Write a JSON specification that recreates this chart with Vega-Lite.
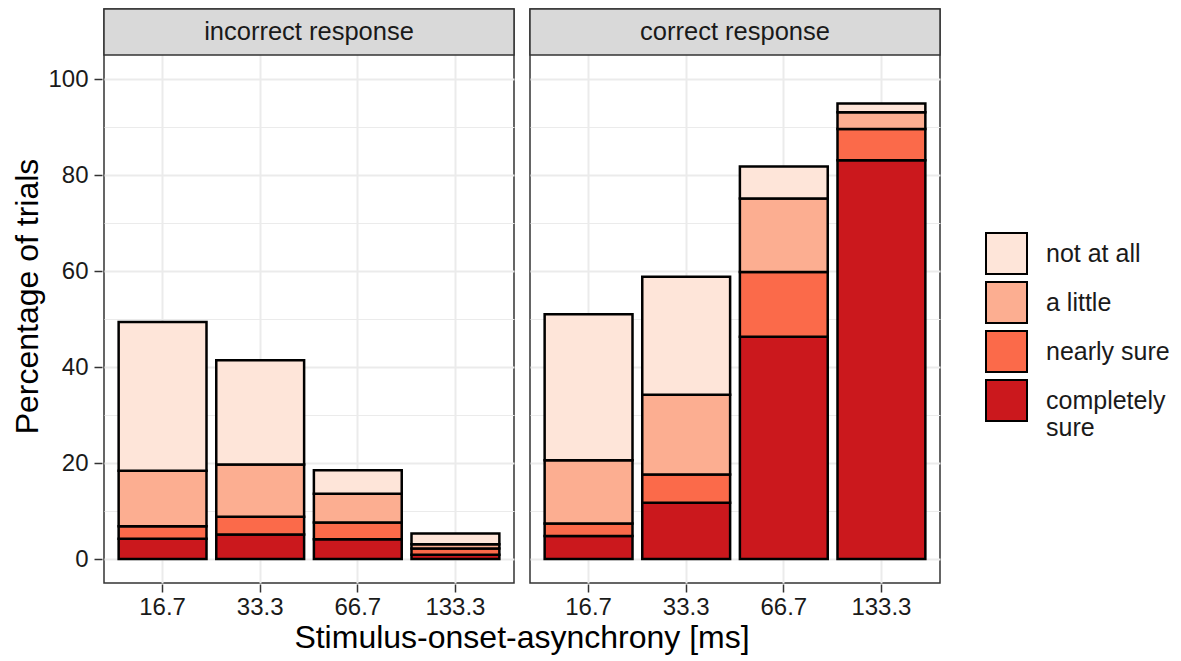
{
  "$schema": "https://vega.github.io/schema/vega-lite/v6.json",
  "padding": {"left": 11, "top": 7, "right": 5, "bottom": 5},
  "background": "white",
  "data": {"values": [
    {"resp": "incorrect response", "soa": "16.7", "conf": "completely sure", "pct": 4.2},
    {"resp": "incorrect response", "soa": "16.7", "conf": "nearly sure", "pct": 2.6},
    {"resp": "incorrect response", "soa": "16.7", "conf": "a little", "pct": 11.6},
    {"resp": "incorrect response", "soa": "16.7", "conf": "not at all", "pct": 31.0},
    {"resp": "incorrect response", "soa": "33.3", "conf": "completely sure", "pct": 5.1},
    {"resp": "incorrect response", "soa": "33.3", "conf": "nearly sure", "pct": 3.7},
    {"resp": "incorrect response", "soa": "33.3", "conf": "a little", "pct": 10.9},
    {"resp": "incorrect response", "soa": "33.3", "conf": "not at all", "pct": 21.7},
    {"resp": "incorrect response", "soa": "66.7", "conf": "completely sure", "pct": 4.1},
    {"resp": "incorrect response", "soa": "66.7", "conf": "nearly sure", "pct": 3.5},
    {"resp": "incorrect response", "soa": "66.7", "conf": "a little", "pct": 6.0},
    {"resp": "incorrect response", "soa": "66.7", "conf": "not at all", "pct": 4.9},
    {"resp": "incorrect response", "soa": "133.3", "conf": "completely sure", "pct": 0.9},
    {"resp": "incorrect response", "soa": "133.3", "conf": "nearly sure", "pct": 1.3},
    {"resp": "incorrect response", "soa": "133.3", "conf": "a little", "pct": 0.9},
    {"resp": "incorrect response", "soa": "133.3", "conf": "not at all", "pct": 2.2},
    {"resp": "correct response", "soa": "16.7", "conf": "completely sure", "pct": 4.8},
    {"resp": "correct response", "soa": "16.7", "conf": "nearly sure", "pct": 2.6},
    {"resp": "correct response", "soa": "16.7", "conf": "a little", "pct": 13.2},
    {"resp": "correct response", "soa": "16.7", "conf": "not at all", "pct": 30.4},
    {"resp": "correct response", "soa": "33.3", "conf": "completely sure", "pct": 11.7},
    {"resp": "correct response", "soa": "33.3", "conf": "nearly sure", "pct": 5.9},
    {"resp": "correct response", "soa": "33.3", "conf": "a little", "pct": 16.6},
    {"resp": "correct response", "soa": "33.3", "conf": "not at all", "pct": 24.6},
    {"resp": "correct response", "soa": "66.7", "conf": "completely sure", "pct": 46.3},
    {"resp": "correct response", "soa": "66.7", "conf": "nearly sure", "pct": 13.5},
    {"resp": "correct response", "soa": "66.7", "conf": "a little", "pct": 15.3},
    {"resp": "correct response", "soa": "66.7", "conf": "not at all", "pct": 6.7},
    {"resp": "correct response", "soa": "133.3", "conf": "completely sure", "pct": 83.1},
    {"resp": "correct response", "soa": "133.3", "conf": "nearly sure", "pct": 6.5},
    {"resp": "correct response", "soa": "133.3", "conf": "a little", "pct": 3.5},
    {"resp": "correct response", "soa": "133.3", "conf": "not at all", "pct": 1.8}
  ]},
  "transform": [
    {"calculate": "indexof(['completely sure','nearly sure','a little','not at all'], datum.conf)", "as": "stackOrder"}
  ],
  "facet": {
    "column": {
      "field": "resp",
      "type": "nominal",
      "sort": ["incorrect response", "correct response"],
      "title": "Stimulus-onset-asynchrony [ms]",
      "header": {
        "labels": false,
        "titleOrient": "bottom",
        "titleFontSize": 32,
        "titleFont": "Liberation Sans",
        "titleFontWeight": "normal",
        "titleColor": "black",
        "titlePadding": -6
      }
    }
  },
  "spacing": 12,
  "spec": {
    "width": 410,
    "height": 574,
    "layer": [
      {
        "mark": {"type": "bar", "stroke": "black", "strokeWidth": 2.5},
        "encoding": {
          "x": {
            "field": "soa",
            "type": "nominal",
            "sort": ["16.7", "33.3", "66.7", "133.3"],
            "scale": {"paddingInner": 0.1, "paddingOuter": 0.15},
            "axis": {
              "title": null,
              "labelAngle": 0,
              "bandPosition": 0.5,
              "grid": true,
              "gridColor": "#EBEBEB",
              "gridWidth": 2,
              "domain": false,
              "tickColor": "#333333",
              "tickWidth": 1.5,
              "tickSize": 8,
              "labelFontSize": 24,
              "labelFont": "Liberation Sans",
              "labelColor": "#1A1A1A",
              "labelPadding": 3
            }
          },
          "y": {
            "field": "pct",
            "type": "quantitative",
            "stack": "zero",
            "scale": {"domain": [-5, 114.6], "nice": false, "zero": false},
            "axis": {
              "title": "Percentage of trials",
              "titleFontSize": 32,
              "titleFont": "Liberation Sans",
              "titleFontWeight": "normal",
              "titleColor": "black",
              "titlePadding": 3,
              "values": [0, 10, 20, 30, 40, 50, 60, 70, 80, 90, 100],
              "labelExpr": "datum.value % 20 == 0 ? datum.label : ''",
              "grid": true,
              "gridColor": "#EBEBEB",
              "gridWidth": {"condition": {"test": "datum.value % 20 == 0", "value": 2}, "value": 1},
              "domain": false,
              "tickColor": {"condition": {"test": "datum.value % 20 == 0", "value": "#333333"}, "value": "transparent"},
              "tickWidth": 1.5,
              "tickSize": 8,
              "labelFontSize": 24,
              "labelFont": "Liberation Sans",
              "labelColor": "#1A1A1A",
              "labelPadding": 6
            }
          },
          "color": {
            "field": "conf",
            "type": "nominal",
            "scale": {
              "domain": ["not at all", "a little", "nearly sure", "completely sure"],
              "range": ["#FEE5D9", "#FCAE91", "#FB6A4A", "#CB181D"]
            },
            "legend": {
              "title": null,
              "orient": "none",
              "legendX": 881,
              "legendY": 223,
              "padding": 0,
              "symbolType": "square",
              "symbolSize": 1681,
              "symbolStrokeColor": "black",
              "symbolStrokeWidth": 2,
              "symbolOpacity": 1,
              "labelFontSize": 25,
              "labelFont": "Liberation Sans",
              "labelColor": "#1A1A1A",
              "labelOffset": 18,
              "rowPadding": 0,
              "labelExpr": "datum.label == 'completely sure' ? ['completely', 'sure'] : datum.label"
            }
          },
          "order": {"field": "stackOrder", "type": "quantitative", "sort": "ascending"}
        }
      },
      {
        "transform": [{"filter": "datum.soa == '16.7' && datum.conf == 'not at all'"}],
        "mark": {"type": "rect", "fill": "#D9D9D9", "stroke": "#333333", "strokeWidth": 1.5},
        "encoding": {
          "y": {"datum": 105, "type": "quantitative"},
          "y2": {"datum": 114.6}
        }
      },
      {
        "transform": [{"filter": "datum.soa == '16.7' && datum.conf == 'not at all'"}],
        "mark": {"type": "text", "fontSize": 25.5, "font": "Liberation Sans", "color": "#1A1A1A", "align": "center", "baseline": "middle"},
        "encoding": {
          "y": {"datum": 109.8, "type": "quantitative"},
          "text": {"field": "resp", "type": "nominal"}
        }
      }
    ]
  },
  "config": {
    "view": {"stroke": "#333333", "strokeWidth": 1.5}
  }
}
